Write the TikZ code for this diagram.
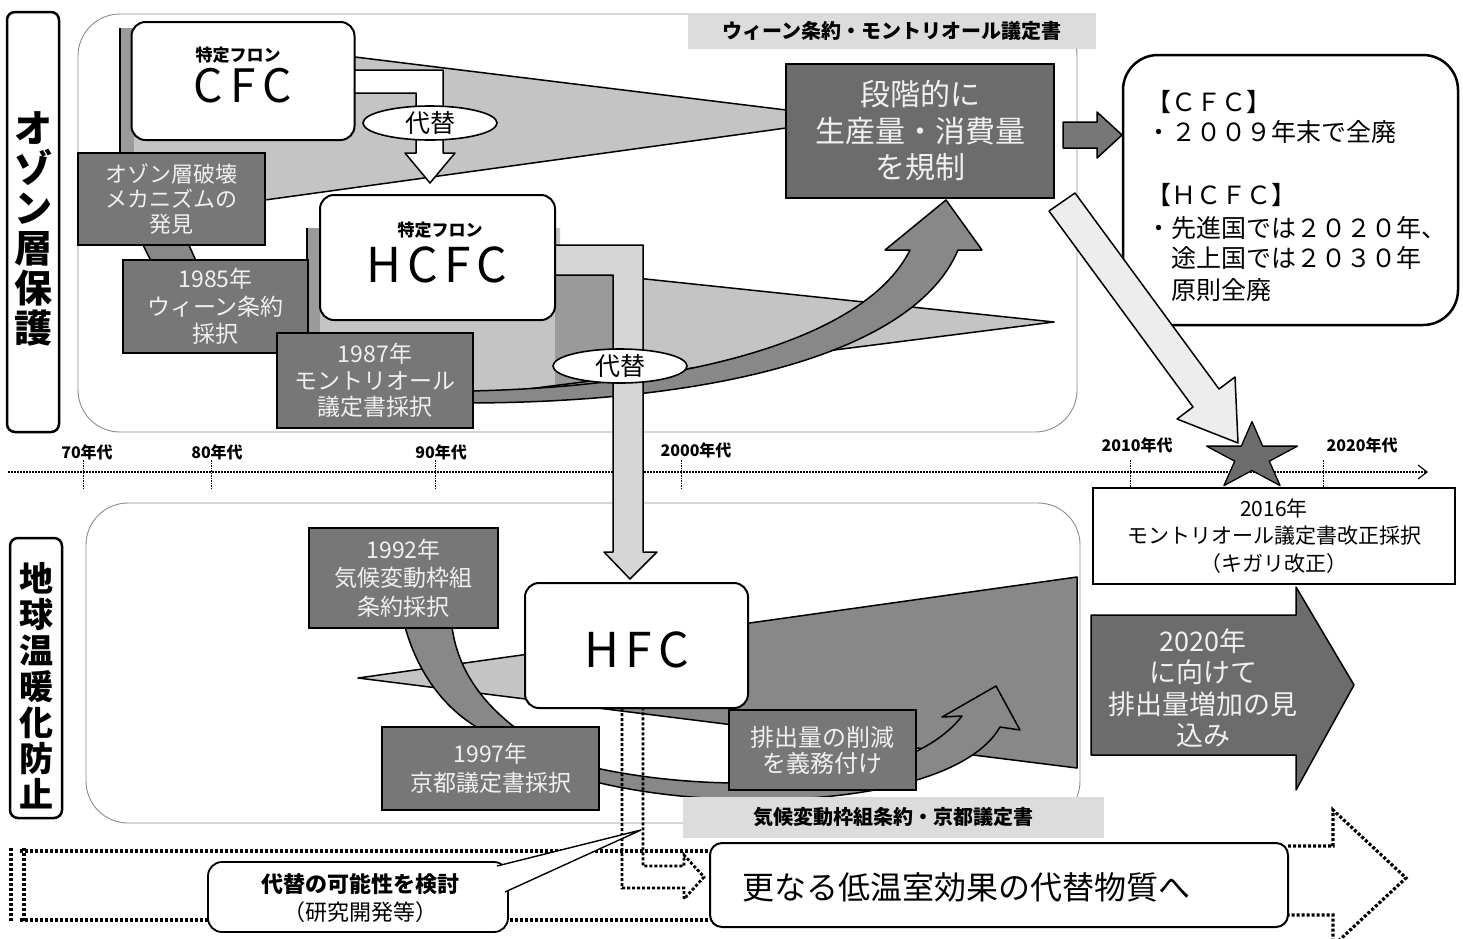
\documentclass[tikz,border=0pt]{standalone}
\usepackage{fontspec}
\setmainfont{Noto Sans CJK JP}
\usetikzlibrary{arrows.meta,shapes.geometric}
\definecolor{dk}{HTML}{777777}
\definecolor{dk2}{HTML}{6C6C6C}
\definecolor{mid}{HTML}{888888}
\definecolor{lt}{HTML}{C4C4C4}
\definecolor{lt2}{HTML}{D6D6D6}
\definecolor{strip}{HTML}{9A9A9A}
\definecolor{hdr}{HTML}{DCDCDC}
\definecolor{txtl}{HTML}{F0F0F0}
\newcommand{\myfs}[2]{\fontsize{#1}{#2}\selectfont}
\begin{document}
\begin{tikzpicture}[x=1pt,y=-1pt,
  darkbox/.style={draw=black,line width=1.6pt,fill=dk,text=txtl,align=center,inner sep=0pt},
  wbox/.style={draw=black,line width=2pt,fill=white,rounded corners=14pt,inner sep=0pt,align=center},
  region/.style={draw=black!45,line width=0.9pt,rounded corners=42pt},
  hdrbox/.style={fill=hdr,inner sep=0pt,font=\bfseries\myfs{20}{24}},
  ell/.style={ellipse,draw=black,line width=1.6pt,fill=white,inner sep=0pt,minimum width=134pt,minimum height=34pt,font=\myfs{25}{28}},
  edge/.style={draw=black,line width=1.5pt,line join=round},
  dotl/.style={line width=3.2pt,dash pattern=on 3pt off 2pt},
  tickl/.style={line width=1pt,dash pattern=on 1.5pt off 1pt},
  yr/.style={font=\bfseries\myfs{16}{18},inner sep=0pt},
  labbox/.style={draw=black,line width=2.5pt,rounded corners=8pt,fill=white},
  info/.style={anchor=west,inner sep=0pt,font=\myfs{25}{28}}
]
\useasboundingbox (0,0) rectangle (1463,938);
\fill[white] (0,0) rectangle (1463,938);

% ---------------- side labels
\node[labbox,minimum width=52pt,minimum height=420pt] (lab1) at (33,222) {};
\node[font=\bfseries\myfs{38}{40},align=center,inner sep=0pt] (lab1t) at (33,229) {オ\\ゾ\\ン\\層\\保\\護};
\node[labbox,minimum width=52pt,minimum height=280pt] (lab2) at (36,678) {};
\node[font=\bfseries\myfs{34}{36},align=center,inner sep=0pt] (lab2t) at (36,686) {地\\球\\温\\暖\\化\\防\\止};

% ---------------- regions
\draw[region] (78,14) rectangle (1077,432);
\draw[region] (86,503) rectangle (1080,823);

% ---------------- timeline
\coordinate (ax0) at (8,472);
\coordinate (ax1) at (1428,472);
\draw[line width=1.2pt,dash pattern=on 2pt off 1pt,-{Straight Barb[length=9pt,width=14pt,line width=1.2pt]}] (ax0) -- (ax1);
\foreach \x in {83,211,435,681,1130,1323} \draw[tickl] (\x,460) -- (\x,488);
\node[yr] (t70) at (87,452) {70年代};
\node[yr] (t80) at (217,452) {80年代};
\node[yr] (t90) at (441,452) {90年代};
\node[yr] (t00) at (696,450) {2000年代};
\node[yr] (t10) at (1137,445) {2010年代};
\node[yr] (t20) at (1362,445) {2020年代};

% ---------------- upper: CFC wedge
\fill[lt] (120,28) -- (355,57) -- (786,110) -- (786,128) -- (265,200) -- (120,200) -- cycle;
\draw[edge] (355,57) -- (786,110) (786,128) -- (265,200);
\fill[strip] (120,28) rectangle (134,155);
\draw[line width=1.2pt] (120,28) -- (120,155);
% elbow arrow 1
\draw[edge,fill=white] (350,70) -- (443,70) -- (443,153) -- (455,153) -- (430,183) -- (405,153) -- (416,153) -- (416,93) -- (350,93) -- cycle;

% HCFC wedge
\fill[lt] (307,228) -- (560,228) -- (560,270) -- (1054,322) -- (473,396) -- (307,335) -- cycle;
\fill[strip] (307,228) rectangle (320,335);
\fill[strip] (555,275) -- (613,275) -- (613,386) -- (555,394) -- cycle;
\draw[edge] (560,270) -- (1054,322) -- (473,396);
\draw[line width=1.2pt] (307,228) -- (307,335);
% dark curved arrow
\draw[edge,fill=mid] (470,391) .. controls (700,386) and (868,335) .. (910,250) -- (885,250) -- (946,200) -- (982,250) -- (958,250) .. controls (915,352) and (720,402) .. (470,403) -- cycle;
% elbow arrow 2
\draw[edge,fill=lt2] (550,245) -- (643,245) -- (643,552) -- (657,552) -- (630,579) -- (604,552) -- (613,552) -- (613,275) -- (550,275) -- cycle;

% trapezoid link
\draw[edge,fill=mid] (142,243) -- (188,243) -- (197,263) -- (152,263) -- cycle;

% boxes upper
\node[wbox,minimum width=223pt,minimum height=118pt] (cfc) at (243,81) {};
\node[font=\bfseries\myfs{17}{20},inner sep=0pt] (cfc1) at (238,55) {特定フロン};
\node[font=\myfs{46}{50},inner sep=0pt] (cfc2) at (243,86) {C\hspace{7pt}F\hspace{7pt}C};
\node[darkbox,minimum width=187pt,minimum height=92pt,font=\myfs{22}{25}] (ozone) at (171.5,199) {オゾン層破壊\\メカニズムの\\発見};
\node[darkbox,minimum width=185pt,minimum height=93pt,font=\myfs{23}{27.5}] (y1985) at (215.5,306.5) {1985年\\ウィーン条約\\採択};
\node[wbox,minimum width=235pt,minimum height=125pt] (hcfc) at (437.5,257.5) {};
\node[font=\bfseries\myfs{17}{20},inner sep=0pt] (hcfc1) at (440,230) {特定フロン};
\node[font=\myfs{48}{52},inner sep=0pt] (hcfc2) at (437,265) {H\hspace{6pt}C\hspace{6pt}F\hspace{6pt}C};
\node[darkbox,minimum width=196pt,minimum height=95pt,font=\myfs{23}{26.5}] (y1987) at (375,380.5) {1987年\\モントリオール\\議定書採択};
\node[darkbox,fill=dk2,minimum width=268pt,minimum height=134pt,font=\myfs{30}{36.5}] (dankai) at (920,131) {段階的に\\生産量・消費量\\を規制};
\node[ell] (alt1) at (430,123) {代替};
\node[ell] (alt2) at (620,366) {代替};
\node[hdrbox,minimum width=408pt,minimum height=36pt] (hdr1) at (892,31) {ウィーン条約・モントリオール議定書};

% ---------------- right upper
\draw[edge,fill=dk] (1063,122) -- (1097,122) -- (1097,112) -- (1122,135) -- (1097,158) -- (1097,148) -- (1063,148) -- cycle;
\draw[line width=2.5pt,rounded corners=35pt,fill=white] (1123,55) rectangle (1458,325);
\node[info] (i1) at (1146,102) {【ＣＦＣ】};
\node[info] (i2) at (1146,132) {・２００９年末で全廃};
\node[info] (i3) at (1146,195) {【ＨＣＦＣ】};
\node[info] (i4) at (1146,228) {・先進国では２０２０年、};
\node[info] (i5) at (1171,258) {途上国では２０３０年};
\node[info] (i6) at (1171,290) {原則全廃};
\draw[edge,fill=black!7] (1075,193) -- (1219,389) -- (1235,377) -- (1238,443) -- (1177,419) -- (1193,407) -- (1049,211) -- cycle;

% star and 2016 box
\draw[line width=1.3pt,fill=dk2,line join=round] (1252,421.6) -- (1262.7,446.1) -- (1297.5,446.1) -- (1269.3,461.2) -- (1280.1,485.6) -- (1252,470.5) -- (1223.9,485.6) -- (1234.7,461.2) -- (1206.5,446.1) -- (1241.3,446.1) -- cycle;
\node[draw=black,line width=2pt,fill=white,minimum width=362pt,minimum height=96pt,align=center,inner sep=0pt,font=\myfs{21}{27.5}] (kigali) at (1274,536) {2016年\\モントリオール議定書改正採択\\（キガリ改正）};

% ---------------- lower
\fill[lt] (358,678) -- (560,649.6) -- (560,703.3) -- cycle;
\fill[mid] (560,649.6) -- (1077,577) -- (1077,768) -- (560,703.3) -- cycle;
\draw[edge] (358,678) -- (1077,577) -- (1077,768) -- cycle;
\draw[edge,fill=mid] (405,627) .. controls (420,680) and (450,712) .. (480,729) -- (517,729) .. controls (485,705) and (458,672) .. (452,627) -- cycle;
\draw[edge,fill=mid] (596,768) .. controls (720,795) and (905,790) .. (962,716) -- (942,717) -- (996,686) -- (1020,730) -- (1000,727) .. controls (955,805) and (730,815) .. (596,782) -- cycle;
\draw[dotl,line width=2.8pt] (622,708) -- (622,888) -- (684,888) -- (684,899) -- (704,877) -- (684,855) -- (684,866) -- (643,866) -- (643,708);

\node[wbox,minimum width=223pt,minimum height=125pt] (hfc) at (636.5,645.5) {};
\node[font=\myfs{48}{52},inner sep=0pt] (hfct) at (637,650) {H\hspace{6pt}F\hspace{6pt}C};
\node[darkbox,minimum width=189pt,minimum height=100pt,font=\myfs{23}{28.5}] (y1992) at (403.5,578) {1992年\\気候変動枠組\\条約採択};
\node[darkbox,minimum width=217pt,minimum height=83pt,font=\myfs{23}{29}] (y1997) at (490.5,768.5) {1997年\\京都議定書採択};
\node[darkbox,minimum width=187pt,minimum height=80pt,font=\myfs{24}{26}] (reduce) at (822.5,750) {排出量の削減\\を義務付け};
\draw[edge,fill=dk2] (1091,615) -- (1296,615) -- (1296,587) -- (1354,685) -- (1296,790) -- (1296,755) -- (1091,755) -- cycle;
\node[text=txtl,align=center,inner sep=0pt,font=\myfs{27}{31.5}] (incr) at (1203,688) {2020年\\に向けて\\排出量増加の見\\込み};
\node[hdrbox,minimum width=421pt,minimum height=41pt] (hdr2) at (893.5,817.5) {気候変動枠組条約・京都議定書};

% ---------------- bottom dotted band
\draw[dotl] (20,851) -- (710,851);
\draw[dotl] (20,920) -- (710,920);
\draw[dotl] (11,848) -- (11,922);
\draw[dotl] (24,848) -- (24,922);
\draw[dotl] (1288,846) -- (1333,846) -- (1333,810) -- (1406,878) -- (1333,946) -- (1333,915) -- (1288,915);

\node[wbox,rounded corners=12pt,minimum width=578pt,minimum height=84pt] (further) at (999,885) {};
\node[font=\myfs{32}{36},inner sep=0pt] (furthert) at (966,887) {更なる低温室効果の代替物質へ};

\node[wbox,line width=1.8pt,minimum width=300pt,minimum height=70pt] (study) at (358,897) {};
\coordinate (ptip) at (641,830);
\fill[white] (497,866) -- (ptip) -- (505,892) -- cycle;
\draw[line width=1.4pt] (497,866) -- (ptip) -- (505,892);
\node[font=\bfseries\myfs{22}{26},inner sep=0pt] (study1) at (360,884) {代替の可能性を検討};
\node[font=\myfs{22}{24},inner sep=0pt] (study2) at (360,912) {（研究開発等）};
\end{tikzpicture}
\end{document}
